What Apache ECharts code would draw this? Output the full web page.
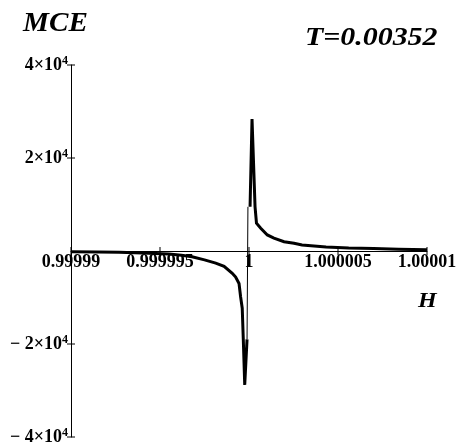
<!DOCTYPE html>
<html>
<head>
<meta charset="utf-8">
<script src="https://cdn.jsdelivr.net/npm/echarts@6/dist/echarts.min.js"></script>
<style>
  html, body { margin: 0; padding: 0; background: #fff; }
  #chart { width: 459px; height: 448px; }
</style>
</head>
<body>
<div id="chart"></div>
<script>
// H is plotted as an offset from 1, in units of 1e-6
const dHNeg  = [-10, -8.5, -7.3, -6.0, -4.5, -3.8, -3.2, -2.5, -1.87, -1.4, -0.94, -0.75, -0.56, -0.47, -0.38, -0.32, -0.24, -0.11];
const mceNeg = [-150, -200, -250, -450, -650, -900, -1250, -1900, -2600, -3300, -4800, -5600, -7000, -9900, -12300, -19100, -28800, -19000];

// thin jump across H = 1
const dHJump  = [-0.11, -0.06];
const mceJump = [-19000, 9500];

const dHPos  = [0.06, 0.17, 0.34, 0.42, 0.66, 1.03, 1.4, 1.97, 2.53, 2.98, 4.33, 5.6, 7.0, 8.4, 10];
const mcePos = [9500, 28400, 9500, 6000, 4900, 3450, 2750, 2000, 1650, 1300, 870, 650, 530, 350, 250];

const xTickValues = [-10, -5, 0, 5, 10];
const xTickLabels = ['0.99999', '0.999995', '1', '1.000005', '1.00001'];
const yTickValues = [-40000, -20000, 0, 20000, 40000];
const yTickLabels = [['\u2212 4', '4'], ['\u2212 2', '4'], null, ['2', '4'], ['4', '4']];

const titleText = 'MCE';
const tempText = 'T=0.00352';
const xName = 'H';

const X_MIN = -10, X_MAX = 10, X_STEP = 5;
const Y_MIN = -40000, Y_MAX = 40000, Y_STEP = 20000;

const serif = '"Liberation Serif", "Times New Roman", serif';
const pairs = (xs, ys) => xs.map((x, i) => [x, ys[i]]);

const chart = echarts.init(document.getElementById('chart'), null, { renderer: 'canvas' });

const yLabelFmt = v => {
  const i = yTickValues.indexOf(Math.round(v));
  const t = i >= 0 ? yTickLabels[i] : null;
  return t ? '{m|' + t[0] + '\u00d710}{s|' + t[1] + '}' : '';
};

// tick marks that cross their axis line on both sides; the H tick labels hang under the zero line
const xTickMarks = xTickValues.map(v => [v, 0]);
const yTickMarks = yTickValues.filter(v => v !== 0).map(v => [X_MIN, v]);

const markSeries = (data, size, label) => ({
  type: 'line', data: data, clip: false, silent: true, z: 1,
  showSymbol: true, symbol: 'rect', symbolSize: size,
  itemStyle: { color: '#000', opacity: 1 },
  lineStyle: { width: 0, opacity: 0 },
  label: label || { show: false },
  labelLayout: { hideOverlap: false }
});

chart.setOption({
  animation: false,
  backgroundColor: '#fff',
  grid: { left: 71, right: 32, top: 65, bottom: 11, containLabel: false, outerBoundsMode: 'none' },
  xAxis: {
    type: 'value', min: X_MIN, max: X_MAX, interval: X_STEP,
    axisLine: { onZero: true, lineStyle: { color: '#000', width: 1 } },
    axisTick: { show: false },
    splitLine: { show: false },
    axisLabel: { show: false }
  },
  yAxis: {
    type: 'value', min: Y_MIN, max: Y_MAX, interval: Y_STEP,
    axisLine: { show: true, onZero: false, lineStyle: { color: '#000', width: 1 } },
    axisTick: { show: false },
    splitLine: { show: false },
    axisLabel: {
      show: true, margin: 3, formatter: yLabelFmt, showMinLabel: true, showMaxLabel: true,
      color: '#000',
      rich: {
        m: { fontFamily: serif, fontWeight: 'bold', fontSize: 18, color: '#000' },
        s: { fontFamily: serif, fontWeight: 'bold', fontSize: 12, color: '#000', verticalAlign: 'top', padding: [0, 0, 8, 0] }
      }
    }
  },
  series: [
    markSeries(xTickMarks, [1, 8], {
      show: true, position: 'bottom', distance: -2, opacity: 1,
      formatter: p => xTickLabels[p.dataIndex],
      color: '#000', textBorderWidth: 0,
      fontFamily: serif, fontWeight: 'bold', fontSize: 18
    }),
    markSeries(yTickMarks, [8, 1]),
    {
      type: 'line', data: pairs(dHNeg, mceNeg), z: 3,
      showSymbol: false, symbol: 'none', smooth: false,
      lineStyle: { color: '#000', width: 3, join: 'miter' }
    },
    {
      type: 'line', data: pairs(dHJump, mceJump), z: 3,
      showSymbol: false, symbol: 'none',
      lineStyle: { color: '#000', width: 1 }
    },
    {
      type: 'line', data: pairs(dHPos, mcePos), z: 3,
      showSymbol: false, symbol: 'none', smooth: false,
      lineStyle: { color: '#000', width: 3, join: 'miter' }
    }
  ],
  graphic: [
    {
      type: 'text', x: 23, y: 24, scaleX: 1.08,
      style: { text: titleText, font: 'italic bold 27px ' + serif, fill: '#000', verticalAlign: 'middle' }
    },
    {
      type: 'text', x: 305, y: 38, scaleX: 1.15,
      style: { text: tempText, font: 'italic bold 26px ' + serif, fill: '#000', verticalAlign: 'middle' }
    },
    {
      type: 'text', x: 418, y: 302, scaleX: 1.2,
      style: { text: xName, font: 'italic bold 20px ' + serif, fill: '#000', verticalAlign: 'middle' }
    }
  ]
});
</script>
</body>
</html>
